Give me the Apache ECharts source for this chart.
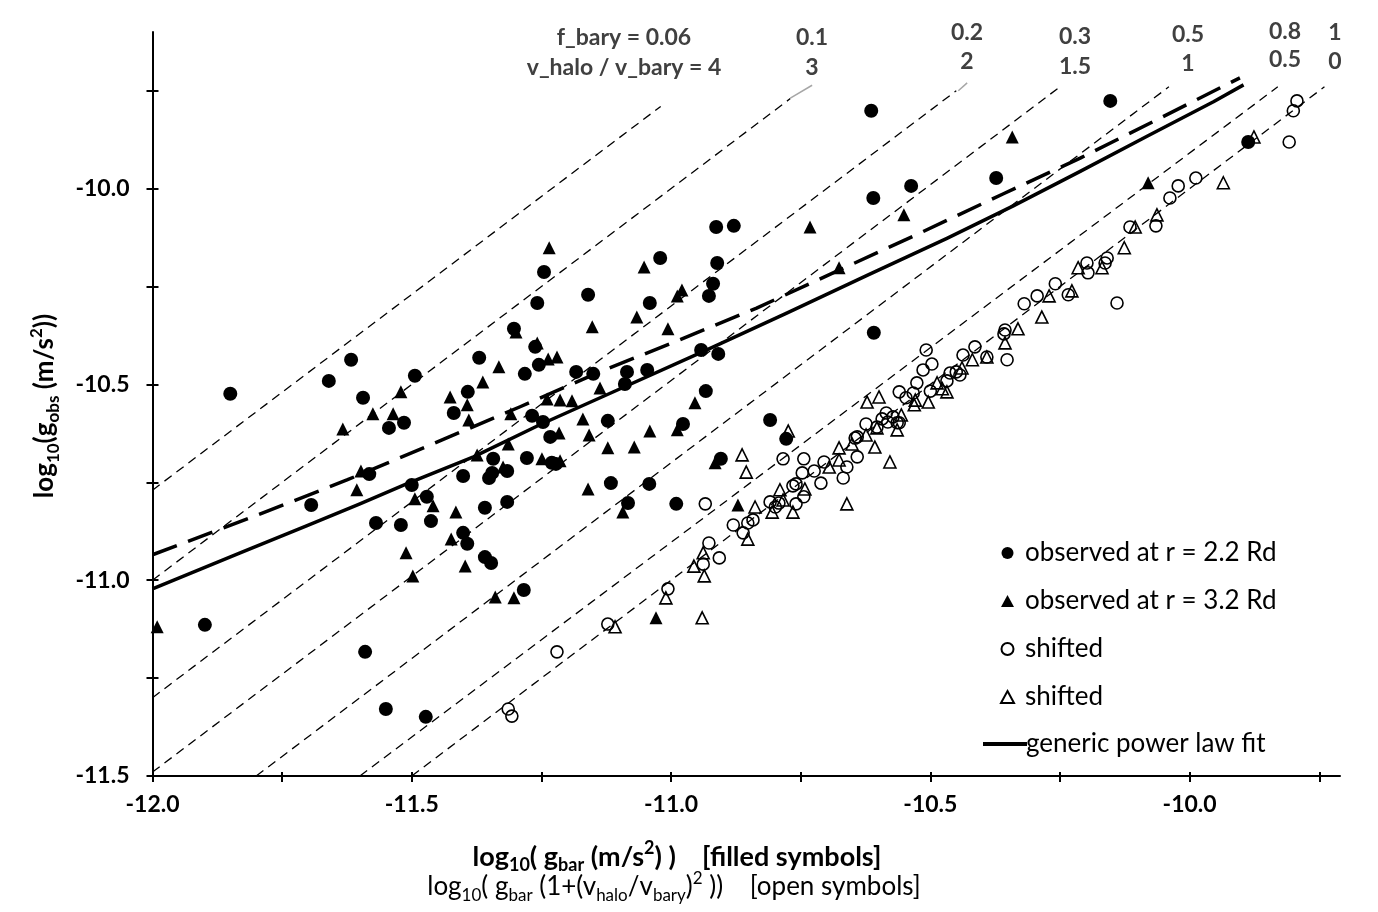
<!DOCTYPE html>
<html>
<head>
<meta charset="utf-8">
<title>g_obs vs g_bar</title>
<script src="https://cdn.jsdelivr.net/npm/echarts@6.0.0/dist/echarts.min.js"></script>
<style>
  html, body { margin: 0; padding: 0; background: #fff; }
  #chart { width: 1378px; height: 912px; }
</style>
</head>
<body>
<div id="chart"></div>
<script>
var FONT = 'Lato, "Open Sans", sans-serif';

// axis ticks
var xTickLabels = [-12.0, -11.5, -11.0, -10.5, -10.0];
var xTickMarks = [-12.0, -11.75, -11.5, -11.25, -11.0, -10.75, -10.5, -10.25, -10.0, -9.75];
var yTickLabels = [-11.5, -11.0, -10.5, -10.0];
var yTickMarks = [-11.5, -11.25, -11.0, -10.75, -10.5, -10.25, -10.0, -9.75];

// labels of the guide lines (top of the chart)
var fLabels = ['f_bary = 0.06', '0.1', '0.2', '0.3', '0.5', '0.8', '1'];
var vLabels = ['v_halo / v_bary = 4', '3', '2', '1.5', '1', '0.5', '0'];

// observed, r = 2.2 Rd (filled circles)
var obsR22 = [
  [-11.850,-10.524],[-11.899,-11.114],[-11.694,-10.808],[-11.660,-10.491],[-11.617,-10.437],
  [-11.594,-10.534],[-11.590,-11.183],[-11.550,-11.329],[-11.473,-11.349],[-11.582,-10.729],
  [-11.544,-10.611],[-11.515,-10.598],[-11.494,-10.478],[-11.500,-10.757],[-11.471,-10.787],
  [-11.463,-10.849],[-11.569,-10.854],[-11.521,-10.859],[-11.401,-10.734],[-11.401,-10.879],
  [-11.393,-10.907],[-11.359,-10.815],[-11.316,-10.800],[-11.359,-10.941],[-11.347,-10.956],
  [-11.284,-11.025],[-11.419,-10.573],[-11.392,-10.519],[-11.370,-10.432],[-11.303,-10.358],
  [-11.258,-10.292],[-11.262,-10.404],[-11.255,-10.450],[-11.282,-10.473],[-11.268,-10.580],
  [-11.343,-10.690],[-11.345,-10.726],[-11.351,-10.739],[-11.316,-10.721],[-11.278,-10.688],
  [-11.245,-10.213],[-11.160,-10.271],[-11.021,-10.177],[-10.913,-10.098],[-10.879,-10.095],
  [-10.911,-10.190],[-10.919,-10.243],[-10.927,-10.274],[-11.041,-10.292],[-11.183,-10.468],
  [-11.150,-10.473],[-11.085,-10.468],[-11.046,-10.463],[-11.089,-10.499],[-10.942,-10.412],
  [-10.909,-10.422],[-10.609,-10.368],[-10.933,-10.517],[-11.247,-10.596],[-11.233,-10.634],
  [-11.122,-10.593],[-10.977,-10.601],[-10.809,-10.591],[-10.778,-10.639],[-11.230,-10.700],
  [-11.222,-10.703],[-11.116,-10.752],[-11.042,-10.754],[-10.904,-10.690],[-11.083,-10.803],
  [-10.990,-10.805],[-10.614,-9.801],[-10.610,-10.024],[-10.537,-9.993],[-10.373,-9.973],
  [-10.153,-9.776],[-9.887,-9.881]
];

// observed, r = 3.2 Rd (filled triangles)
var obsR32 = [
  [-11.991,-11.119],[-11.521,-10.519],[-11.575,-10.575],[-11.633,-10.614],[-11.536,-10.575],
  [-11.332,-10.455],[-11.299,-10.366],[-11.258,-10.394],[-11.363,-10.494],[-11.426,-10.532],
  [-11.393,-10.552],[-11.390,-10.591],[-11.309,-10.575],[-11.598,-10.721],[-11.606,-10.769],
  [-11.494,-10.792],[-11.459,-10.810],[-11.415,-10.826],[-11.374,-10.680],[-11.324,-10.711],
  [-11.314,-10.652],[-11.249,-10.690],[-11.511,-10.930],[-11.498,-10.989],[-11.424,-10.895],
  [-11.397,-10.964],[-11.339,-11.043],[-11.303,-11.045],[-11.235,-10.151],[-11.052,-10.200],
  [-10.732,-10.098],[-10.551,-10.067],[-11.152,-10.353],[-11.066,-10.328],[-11.006,-10.358],
  [-10.979,-10.259],[-10.988,-10.274],[-10.676,-10.202],[-11.237,-10.435],[-11.220,-10.430],
  [-11.137,-10.509],[-11.239,-10.537],[-11.214,-10.540],[-11.191,-10.542],[-10.954,-10.547],
  [-11.170,-10.588],[-11.216,-10.624],[-11.158,-10.629],[-11.041,-10.619],[-10.988,-10.616],
  [-11.122,-10.662],[-11.071,-10.660],[-11.214,-10.695],[-10.915,-10.700],[-11.160,-10.767],
  [-11.093,-10.826],[-10.871,-10.808],[-11.029,-11.096],[-10.342,-9.868],[-10.080,-9.985]
];

// shifted (open circles)
var shiftedCircles = [
  [-9.793,-9.776],[-9.800,-9.801],[-9.808,-9.881],[-9.988,-9.973],[-10.022,-9.993],
  [-10.038,-10.024],[-10.065,-10.095],[-10.115,-10.098],[-10.159,-10.177],[-10.163,-10.190],
  [-10.198,-10.190],[-10.196,-10.215],[-10.259,-10.243],[-10.294,-10.274],[-10.234,-10.271],
  [-10.319,-10.294],[-10.140,-10.292],[-10.356,-10.361],[-10.358,-10.371],[-10.352,-10.437],
  [-10.414,-10.404],[-10.437,-10.425],[-10.391,-10.430],[-10.508,-10.412],[-10.497,-10.448],
  [-10.514,-10.463],[-10.462,-10.471],[-10.450,-10.468],[-10.443,-10.476],[-10.468,-10.491],
  [-10.526,-10.496],[-10.560,-10.519],[-10.533,-10.522],[-10.500,-10.517],[-10.547,-10.534],
  [-10.585,-10.573],[-10.572,-10.583],[-10.593,-10.588],[-10.560,-10.598],[-10.624,-10.601],
  [-10.603,-10.609],[-10.582,-10.596],[-10.564,-10.598],[-10.641,-10.634],[-10.645,-10.637],
  [-10.641,-10.685],[-10.661,-10.711],[-10.744,-10.690],[-10.784,-10.690],[-10.705,-10.698],
  [-10.724,-10.721],[-10.747,-10.726],[-10.668,-10.739],[-10.711,-10.752],[-10.759,-10.754],
  [-10.765,-10.759],[-10.744,-10.787],[-10.759,-10.805],[-10.809,-10.800],[-10.799,-10.813],
  [-10.792,-10.803],[-10.934,-10.805],[-10.880,-10.859],[-10.852,-10.854],[-10.842,-10.846],
  [-10.861,-10.879],[-10.927,-10.905],[-10.907,-10.943],[-10.938,-10.959],[-11.006,-11.022],
  [-11.122,-11.112],[-11.220,-11.183],[-11.314,-11.329],[-11.307,-11.347]
];

// shifted (open triangles)
var shiftedTriangles = [
  [-9.876,-9.868],[-9.935,-9.985],[-10.063,-10.067],[-10.105,-10.098],[-10.126,-10.151],
  [-10.169,-10.202],[-10.215,-10.202],[-10.227,-10.261],[-10.271,-10.274],[-10.285,-10.328],
  [-10.331,-10.358],[-10.356,-10.394],[-10.391,-10.430],[-10.419,-10.437],[-10.439,-10.458],
  [-10.487,-10.496],[-10.477,-10.511],[-10.468,-10.519],[-10.504,-10.545],[-10.529,-10.540],
  [-10.531,-10.552],[-10.599,-10.532],[-10.622,-10.545],[-10.556,-10.578],[-10.564,-10.616],
  [-10.603,-10.611],[-10.624,-10.629],[-10.651,-10.652],[-10.607,-10.660],[-10.676,-10.662],
  [-10.578,-10.698],[-10.676,-10.693],[-10.695,-10.711],[-10.661,-10.805],[-10.742,-10.767],
  [-10.790,-10.769],[-10.784,-10.795],[-10.805,-10.826],[-10.765,-10.826],[-10.838,-10.813],
  [-10.774,-10.619],[-10.863,-10.680],[-10.855,-10.724],[-10.852,-10.895],[-10.938,-10.930],
  [-10.956,-10.964],[-10.936,-10.989],[-11.010,-11.045],[-11.108,-11.119],[-10.940,-11.096]
];

// generic power law fit (thick solid)
var powerLawFit = [
  [-12.000,-11.022],[-11.831,-10.930],[-11.703,-10.861],[-11.600,-10.805],[-11.510,-10.754],
  [-11.381,-10.685],[-11.253,-10.603],[-11.098,-10.511],[-10.931,-10.412],[-10.777,-10.318],
  [-10.623,-10.222],[-10.468,-10.127],[-10.340,-10.044],[-10.211,-9.956],[-10.083,-9.867],
  [-9.954,-9.778],[-9.896,-9.735]
];

// thick dashed relation
var thickDashed = [
  [-12.000,-10.935],[-11.787,-10.828],[-11.625,-10.744],[-11.465,-10.655],[-11.291,-10.557],
  [-11.143,-10.471],[-10.983,-10.386],[-10.835,-10.305],[-10.674,-10.207],[-10.524,-10.116],
  [-10.359,-10.013],[-10.211,-9.922],[-10.063,-9.824],[-9.903,-9.717]
];

// thin dashed guide lines, one per f_bary / v_halo ratio
var guideLines = [
  [[-12.00,-10.77],[-11.02,-9.79]],
  [[-12.00,-11.00],[-10.77,-9.77]],
  [[-12.00,-11.30],[-10.45,-9.75]],
  [[-12.00,-11.49],[-10.25,-9.74]],
  [[-11.80,-11.50],[-10.04,-9.74]],
  [[-11.60,-11.50],[-9.83,-9.74]],
  [[-11.50,-11.50],[-9.74,-9.74]]
];
// short grey label leaders
var leaderLines = [
  [[-10.770,-9.769],[-10.728,-9.736]],
  [[-10.446,-9.750],[-10.429,-9.730]]
];

// screen placement of the top labels: [x, y of f line, y of v line]
var labelPos = [[624,38,68],[812,38,68],[967,33,62],[1075,37,67],[1188,35,64],[1285,32,60],[1335,33,62]];

var chart = echarts.init(document.getElementById('chart'));

var series = [];
guideLines.forEach(function (seg, i) {
  series.push({
    name: 'guide' + i, type: 'line', data: seg, symbol: 'none', silent: true, z: 1,
    lineStyle: { color: '#000', width: 1.3, type: [9, 6] }
  });
});
leaderLines.forEach(function (seg, i) {
  series.push({
    name: 'leader' + i, type: 'line', data: seg, symbol: 'none', silent: true, z: 1,
    lineStyle: { color: '#a6a6a6', width: 1.5 }
  });
});
series.push({
  name: 'dashed fit', type: 'line', data: thickDashed, symbol: 'none', z: 2,
  lineStyle: { color: '#000', width: 3.5, type: [26, 12], join: 'round' }
});
series.push({
  name: 'generic power law fit', type: 'line', data: powerLawFit, symbol: 'none', z: 2,
  lineStyle: { color: '#000', width: 3.5, join: 'round' }, itemStyle: { color: '#000' }
});
series.push({
  name: 'observed at r = 2.2 Rd', type: 'scatter', data: obsR22, symbol: 'circle', symbolSize: 14, z: 3,
  itemStyle: { color: '#000', opacity: 1 }
});
series.push({
  name: 'observed at r = 3.2 Rd', type: 'scatter', data: obsR32, symbol: 'triangle', symbolSize: 13, z: 3,
  itemStyle: { color: '#000', opacity: 1 }
});
series.push({
  name: 'shifted', type: 'scatter', data: shiftedCircles, symbol: 'circle', symbolSize: 12, z: 3,
  itemStyle: { color: 'rgba(0,0,0,0)', borderColor: '#000', borderWidth: 1.6, opacity: 1 }
});
series.push({
  name: 'shifted ', type: 'scatter', data: shiftedTriangles, symbol: 'triangle', symbolSize: 12, z: 3,
  itemStyle: { color: 'rgba(0,0,0,0)', borderColor: '#000', borderWidth: 1.6, opacity: 1 }
});

function richSet(weight, size) {
  var base = { fontFamily: FONT, fontWeight: weight, color: '#000' };
  var sub = Math.round(size * 0.66);
  return {
    m: Object.assign({ fontSize: size, lineHeight: size + 8 }, base),
    sub: Object.assign({ fontSize: sub, lineHeight: sub, verticalAlign: 'bottom' }, base),
    sup: Object.assign({ fontSize: sub, lineHeight: size + 1, verticalAlign: 'top' }, base)
  };
}

var graphics = [
  {
    type: 'text', x: 45, y: 406, rotation: Math.PI / 2,
    style: {
      text: '{m|log}{sub|10}{m|(g}{sub|obs}{m| (m/s}{sup|2}{m|))}',
      rich: richSet('bold', 26), align: 'center', verticalAlign: 'middle'
    }
  },
  {
    type: 'text', x: 677, y: 857,
    style: {
      text: '{m|log}{sub|10}{m|( g}{sub|bar}{m| (m/s}{sup|2}{m|) )    [filled symbols]}',
      rich: richSet('bold', 27), align: 'center', verticalAlign: 'middle'
    }
  },
  {
    type: 'text', x: 674, y: 887,
    style: {
      text: '{m|log}{sub|10}{m|( g}{sub|bar}{m| (1+(v}{sub|halo}{m|/v}{sub|bary}{m|)}{sup|2}{m| ))    [open symbols]}',
      rich: richSet('normal', 26), align: 'center', verticalAlign: 'middle'
    }
  }
];
labelPos.forEach(function (p, i) {
  graphics.push({
    type: 'text', x: p[0], y: p[1],
    style: { text: fLabels[i], fontFamily: FONT, fontWeight: 'bold', fontSize: 23, fill: '#404040', align: 'center', verticalAlign: 'middle' }
  });
  graphics.push({
    type: 'text', x: p[0], y: p[2],
    style: { text: vLabels[i], fontFamily: FONT, fontWeight: 'bold', fontSize: 23, fill: '#404040', align: 'center', verticalAlign: 'middle' }
  });
});

var axisFont = { fontFamily: FONT, fontSize: 23, fontWeight: 'bold', color: '#000' };
var legendText = { fontFamily: FONT, fontSize: 26, lineHeight: 28, color: '#000' };

chart.setOption({
  animation: false,
  backgroundColor: '#fff',
  grid: { left: 152.5, right: 38, top: 32, bottom: 136, containLabel: false },
  legend: [{
    orient: 'vertical', left: 995, top: 534,
    itemWidth: 13, itemHeight: 12, itemGap: 20,
    textStyle: Object.assign({ padding: [0, 0, 0, 6] }, legendText),
    formatter: function (n) { return n.trim(); },
    data: ['observed at r = 2.2 Rd', 'observed at r = 3.2 Rd', 'shifted', 'shifted ']
  }, {
    orient: 'vertical', left: 978, top: 725,
    itemWidth: 44, itemHeight: 4,
    textStyle: Object.assign({ padding: [0, 0, 0, -6] }, legendText),
    data: [{ name: 'generic power law fit', icon: 'rect' }]
  }],
  xAxis: [{
    type: 'value', min: -12, max: -9.71, interval: 0.25, position: 'bottom',
    axisLine: { onZero: false, lineStyle: { color: '#000', width: 2 } },
    axisTick: { customValues: xTickMarks, length: 6, lineStyle: { color: '#000', width: 2 } },
    axisLabel: Object.assign({ customValues: xTickLabels, margin: 17, formatter: function (v) { return v.toFixed(1); } }, axisFont),
    splitLine: { show: false }
  }, {
    type: 'value', min: -12, max: -9.71, interval: 0.25, position: 'bottom',
    axisLine: { show: false, onZero: false },
    axisTick: { inside: true, customValues: xTickMarks, length: 4, lineStyle: { color: '#000', width: 2 } },
    axisLabel: { show: false }, splitLine: { show: false }
  }],
  yAxis: [{
    type: 'value', min: -11.5, max: -9.6, interval: 0.25, position: 'left',
    axisLine: { show: true, onZero: false, lineStyle: { color: '#000', width: 2 } },
    axisTick: { show: true, customValues: yTickMarks, length: 6, lineStyle: { color: '#000', width: 2 } },
    axisLabel: Object.assign({ customValues: yTickLabels, margin: 23, formatter: function (v) { return v.toFixed(1); } }, axisFont),
    splitLine: { show: false }
  }, {
    type: 'value', min: -11.5, max: -9.6, interval: 0.25, position: 'left',
    axisLine: { show: false, onZero: false },
    axisTick: { show: true, inside: true, customValues: yTickMarks, length: 6, lineStyle: { color: '#000', width: 2 } },
    axisLabel: { show: false }, splitLine: { show: false }
  }],
  graphic: graphics,
  series: series
});
</script>
</body>
</html>
